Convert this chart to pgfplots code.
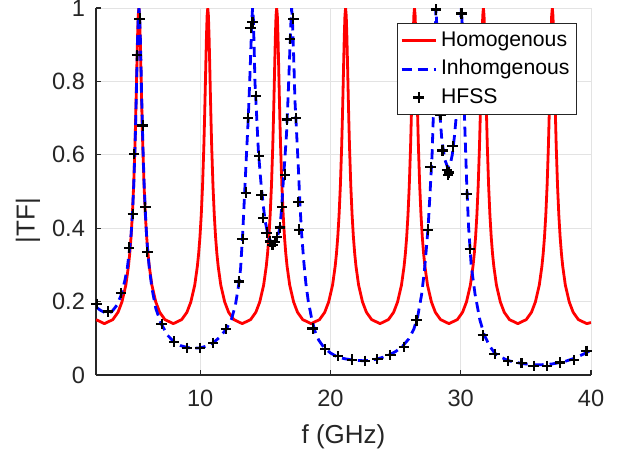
\documentclass[border=0pt]{standalone}
\usepackage{fontspec}
\setmainfont{Liberation Sans}
\usepackage{pgfplots}
\pgfplotsset{compat=1.18}
\definecolor{axgray}{HTML}{262626}
\definecolor{gridgray}{HTML}{E3E3E3}

% homogeneous line model (red)
\pgfplotstableread{
f y
2 0.151
2.645 0.140
3.29 0.151
3.69 0.171
3.99 0.199
4.29 0.245
4.49 0.296
4.59 0.331
4.69 0.376
4.79 0.436
4.89 0.516
4.99 0.624
5.04 0.692
5.09 0.767
5.14 0.847
5.19 0.922
5.24 0.979
5.29 1
5.34 0.979
5.39 0.922
5.44 0.847
5.49 0.767
5.54 0.692
5.59 0.624
5.69 0.516
5.79 0.436
5.89 0.376
5.99 0.331
6.09 0.296
6.29 0.245
6.59 0.199
6.89 0.171
7.29 0.151
7.935 0.140
8.58 0.151
8.98 0.171
9.28 0.199
9.58 0.245
9.78 0.296
9.88 0.331
9.98 0.376
10.08 0.436
10.18 0.516
10.28 0.624
10.33 0.692
10.38 0.767
10.43 0.847
10.48 0.922
10.53 0.979
10.58 1
10.63 0.979
10.68 0.922
10.73 0.847
10.78 0.767
10.83 0.692
10.88 0.624
10.98 0.516
11.08 0.436
11.18 0.376
11.28 0.331
11.38 0.296
11.58 0.245
11.88 0.199
12.18 0.171
12.58 0.151
13.225 0.140
13.87 0.151
14.27 0.171
14.57 0.199
14.87 0.245
15.07 0.296
15.17 0.331
15.27 0.376
15.37 0.436
15.47 0.516
15.57 0.624
15.62 0.692
15.67 0.767
15.72 0.847
15.77 0.922
15.82 0.979
15.87 1
15.92 0.979
15.97 0.922
16.02 0.847
16.07 0.767
16.12 0.692
16.17 0.624
16.27 0.516
16.37 0.436
16.47 0.376
16.57 0.331
16.67 0.296
16.87 0.245
17.17 0.199
17.47 0.171
17.87 0.151
18.515 0.140
19.16 0.151
19.56 0.171
19.86 0.199
20.16 0.245
20.36 0.296
20.46 0.331
20.56 0.376
20.66 0.436
20.76 0.516
20.86 0.624
20.91 0.692
20.96 0.767
21.01 0.847
21.06 0.922
21.11 0.979
21.16 1
21.21 0.979
21.26 0.922
21.31 0.847
21.36 0.767
21.41 0.692
21.46 0.624
21.56 0.516
21.66 0.436
21.76 0.376
21.86 0.331
21.96 0.296
22.16 0.245
22.46 0.199
22.76 0.171
23.16 0.151
23.805 0.140
24.45 0.151
24.85 0.171
25.15 0.199
25.45 0.245
25.65 0.296
25.75 0.331
25.85 0.376
25.95 0.436
26.05 0.516
26.15 0.624
26.20 0.692
26.25 0.767
26.30 0.847
26.35 0.922
26.40 0.979
26.45 1
26.50 0.979
26.55 0.922
26.60 0.847
26.65 0.767
26.70 0.692
26.75 0.624
26.85 0.516
26.95 0.436
27.05 0.376
27.15 0.331
27.25 0.296
27.45 0.245
27.75 0.199
28.05 0.171
28.45 0.151
29.095 0.140
29.74 0.151
30.14 0.171
30.44 0.199
30.74 0.245
30.94 0.296
31.04 0.331
31.14 0.376
31.24 0.436
31.34 0.516
31.44 0.624
31.49 0.692
31.54 0.767
31.59 0.847
31.64 0.922
31.69 0.979
31.74 1
31.79 0.979
31.84 0.922
31.89 0.847
31.94 0.767
31.99 0.692
32.04 0.624
32.14 0.516
32.24 0.436
32.34 0.376
32.44 0.331
32.54 0.296
32.74 0.245
33.04 0.199
33.34 0.171
33.74 0.151
34.385 0.140
35.03 0.151
35.43 0.171
35.73 0.199
36.03 0.245
36.23 0.296
36.33 0.331
36.43 0.376
36.53 0.436
36.63 0.516
36.73 0.624
36.78 0.692
36.83 0.767
36.88 0.847
36.93 0.922
36.98 0.979
37.03 1
37.08 0.979
37.13 0.922
37.18 0.847
37.23 0.767
37.28 0.692
37.33 0.624
37.43 0.516
37.53 0.436
37.63 0.376
37.73 0.331
37.83 0.296
38.03 0.245
38.33 0.199
38.63 0.171
39.03 0.151
39.675 0.140
40 0.143
}\homog

% inhomogeneous line model (blue dashed)
\pgfplotstableread{
f y
2.0 0.185
2.4 0.175
2.8 0.168
3.2 0.172
3.6 0.19
3.9 0.215
4.2 0.255
4.4 0.29
4.6 0.35
4.7 0.385
4.8 0.44
4.9 0.52
5.0 0.625
5.05 0.695
5.1 0.77
5.15 0.85
5.2 0.925
5.25 0.98
5.3 1
5.35 0.98
5.4 0.925
5.45 0.85
5.5 0.77
5.55 0.695
5.6 0.625
5.7 0.515
5.8 0.435
5.9 0.37
6.0 0.325
6.1 0.29
6.3 0.235
6.6 0.18
7.0 0.14
7.5 0.108
8.0 0.09
8.5 0.08
9.0 0.075
9.5 0.073
10.0 0.074
10.5 0.079
11.0 0.088
11.5 0.103
12.0 0.125
12.4 0.152
12.7 0.19
12.95 0.245
13.1 0.29
13.26 0.385
13.43 0.51
13.55 0.6
13.69 0.70
13.8 0.8
13.9 0.9
13.97 0.97
14.02 1.0
14.08 0.97
14.15 0.88
14.2 0.8
14.3 0.73
14.46 0.614
14.6 0.55
14.71 0.505
14.85 0.46
14.97 0.423
15.15 0.39
15.35 0.368
15.55 0.36
15.75 0.366
15.95 0.38
16.12 0.40
16.25 0.455
16.37 0.523
16.5 0.59
16.63 0.66
16.75 0.76
16.85 0.855
16.95 0.95
17.02 1.0
17.1 0.95
17.2 0.84
17.27 0.75
17.4 0.66
17.53 0.568
17.65 0.47
17.78 0.387
17.95 0.31
18.11 0.25
18.3 0.2
18.55 0.155
18.8 0.12
19.1 0.095
19.5 0.075
20.0 0.06
20.5 0.05
21.0 0.045
21.5 0.042
22.0 0.04
22.5 0.039
23.0 0.04
23.5 0.043
24.0 0.048
24.5 0.055
25.0 0.064
25.5 0.077
26.0 0.098
26.4 0.125
26.7 0.16
27.0 0.22
27.2 0.28
27.35 0.34
27.5 0.405
27.65 0.5
27.8 0.6
27.9 0.71
28.0 0.85
28.06 0.95
28.1 1.0
28.15 0.96
28.22 0.88
28.3 0.79
28.4 0.71
28.55 0.64
28.78 0.587
29.0 0.565
29.16 0.568
29.35 0.6
29.5 0.645
29.68 0.714
29.8 0.8
29.92 0.9
30.0 0.97
30.05 1.0
30.12 0.95
30.2 0.84
30.3 0.69
30.45 0.53
30.6 0.405
30.8 0.3
31.1 0.22
31.47 0.15
31.8 0.11
32.2 0.08
32.6 0.06
33.0 0.05
33.6 0.04
34.0 0.036
34.6 0.032
35.0 0.03
35.6 0.028
36.2 0.028
36.6 0.029
37.0 0.03
37.6 0.034
38.0 0.037
38.6 0.044
39.0 0.05
39.6 0.06
40.0 0.068
}\inhomog

% HFSS simulation points
\pgfplotstableread{
f y
2.05 0.194
2.94 0.173
3.92 0.223
4.53 0.347
4.82 0.439
4.94 0.603
5.15 0.871
5.35 0.971
5.58 0.680
5.79 0.458
5.94 0.335
7.04 0.139
7.99 0.091
9.0 0.074
9.98 0.074
11.0 0.088
11.98 0.125
12.97 0.255
13.26 0.370
13.51 0.497
13.69 0.700
13.87 0.946
14.02 0.962
14.28 0.761
14.53 0.596
14.71 0.491
14.84 0.428
15.1 0.388
15.35 0.364
15.55 0.355
15.72 0.362
15.9 0.375
16.12 0.402
16.3 0.458
16.5 0.546
16.68 0.696
16.89 0.916
17.15 0.971
17.35 0.700
17.53 0.472
17.6 0.396
18.63 0.127
19.6 0.070
20.6 0.051
21.65 0.042
22.64 0.039
23.6 0.043
24.6 0.055
25.64 0.077
26.6 0.149
27.5 0.396
27.69 0.567
28.09 0.996
28.45 0.709
28.6 0.612
28.96 0.559
29.03 0.546
29.11 0.552
29.38 0.623
30.06 0.985
30.45 0.493
30.7 0.343
31.7 0.108
32.6 0.057
33.64 0.039
34.67 0.032
35.6 0.025
36.64 0.025
37.6 0.034
38.68 0.041
39.66 0.066
}\hfss

\begin{document}
\begin{tikzpicture}
\useasboundingbox (-48pt,-44pt) rectangle (261.5pt,187.5pt);
\begin{axis}[
    scale only axis,
    width=247.5pt, height=183.5pt,
    xmin=2, xmax=40, ymin=0, ymax=1,
    xtick={10,20,30,40},
    ytick={0,0.2,0.4,0.6,0.8,1},
    axis lines*=left,
    axis line style={-, draw=axgray, line width=0.6pt},
    tick align=inside,
    major tick length=2.5pt,
    tick style={draw=axgray, line width=0.6pt},
    grid=major,
    grid style={draw=gridgray, line width=0.5pt},
    /pgf/number format/assume math mode=true,
    tick label style={font=\fontsize{11.8}{14}\selectfont, text=axgray},
    xticklabel style={yshift=-4pt},
    yticklabel style={xshift=-2pt},
    xlabel={f (GHz)},
    ylabel={|TF|},
    label style={font=\fontsize{13}{15}\selectfont, text=axgray},
    xlabel style={at={(axis description cs:0.5,0)}, anchor=center, yshift=-31pt},
    % the y label is rotated, so its yshift moves it to the left
    ylabel style={at={(axis description cs:0,0.42)}, anchor=center, yshift=34pt},
    clip mode=individual,
    legend style={at={(axis description cs:1,1)}, anchor=north east,
        xshift=-7pt, yshift=-7.5pt,
        font=\fontsize{10.6}{12}\selectfont,
        draw=axgray, line width=0.5pt, fill=white,
        inner xsep=1.5pt, inner ysep=1.5pt, row sep=0pt,
        nodes={inner sep=2pt, text height=8pt, text depth=2.2pt},
        cells={anchor=west}},
    legend image code/.code={\draw[mark repeat=2,mark phase=2,#1]
        plot coordinates {(0pt,0pt) (8.5pt,0pt) (17pt,0pt)};},
]
\addplot[red, line width=1.4pt, line join=round] table[x=f,y=y] {\homog};
\addlegendentry{Homogenous}
\addplot[blue, line width=1.4pt, dash pattern=on 5pt off 3pt, line join=round] table[x=f,y=y] {\inhomog};
\addlegendentry{Inhomgenous}
\addplot[black, only marks, mark=+, mark size=2.6pt, mark options={line width=1.1pt}] table[x=f,y=y] {\hfss};
\addlegendentry{HFSS}
\end{axis}
\end{tikzpicture}
\end{document}
